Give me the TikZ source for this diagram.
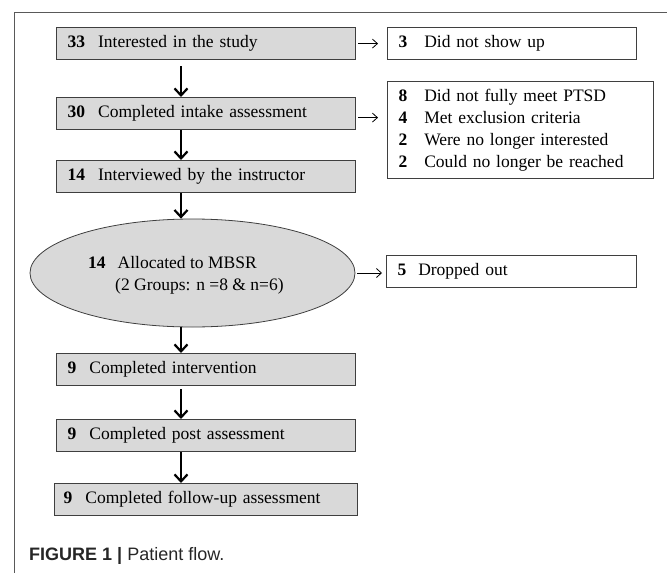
\documentclass[tikz,border=0pt]{standalone}
\usepackage{fontspec}
\setmainfont{Liberation Serif}
\newfontfamily\capfont{Liberation Sans}
\usepackage{tikz}
\usepackage{xcolor}
\usetikzlibrary{positioning,shapes.geometric,arrows.meta}

\definecolor{boxgray}{HTML}{D9D9D9}
\definecolor{edgegray}{HTML}{3F3F3F}
\definecolor{framegray}{HTML}{595959}
\newcommand{\cnt}[2][13pt]{\textbf{#2}\hspace{#1}}

\begin{document}
\begin{tikzpicture}[x=1pt, y=-1pt,
		every node/.style={font=\fontsize{17.5}{22}\selectfont, inner ysep=0pt},
		stagebox/.style={draw=edgegray, line width=1.2pt, fill=boxgray, anchor=north west,
			minimum height=32pt, inner xsep=11pt, text width=277pt, align=left},
		exitbox/.style={draw=edgegray, line width=1pt, fill=white, anchor=north west,
			minimum height=32pt, inner xsep=11pt, align=left},
		allocshape/.style={ellipse, draw=edgegray, line width=0.8pt, fill=boxgray,
			minimum width=325pt, minimum height=108pt, inner sep=0pt},
		down/.style={line width=2.2pt, -{Straight Barb[length=7pt,width=13pt]}},
		side/.style={line width=0.8pt, -{Straight Barb[length=5pt,width=9pt]}}]
		\useasboundingbox (0,0) rectangle (667,573);
		% frame
		\draw[framegray, line width=1pt] (14,573) -- (14,12) -- (667,12);
		% main column
		\node[stagebox] (s1) at (56,27) {\cnt{33}Interested in the study};
		\node[stagebox] (s2) at (56,97) {\cnt{30}Completed intake assessment};
		\node[stagebox] (s3) at (56,160) {\cnt{14}Interviewed by the instructor};
		\node[allocshape] (alloc) at (192.5,273) {};
		\node[anchor=west, align=left, inner sep=0pt] (allocnote) at (88,275)
			{\cnt[12pt]{14}Allocated to MBSR\\\hspace{27pt}(2 Groups: n =8 \& n=6)};
		\node[stagebox] (s4) at (56,353) {\cnt{9}Completed intervention};
		\node[stagebox] (s5) at (56,419) {\cnt{9}Completed post assessment};
		\node[stagebox, inner xsep=9pt, text width=285pt] (s6) at (54,483)
			{\cnt{9}Completed follow-up assessment};
		% exits
		\node[exitbox, text width=227pt] (x1) at (387,27) {\cnt[17pt]{3}Did not show up};
		\node[exitbox, text width=244pt, minimum height=97pt] (x2) at (387,81)
			{\cnt[17pt]{8}Did not fully meet PTSD\\
			 \cnt[17pt]{4}Met exclusion criteria\\
			 \cnt[17pt]{2}Were no longer interested\\
			 \cnt[17pt]{2}Could no longer be reached};
		\node[exitbox, text width=228pt] (x3) at (386,255) {\cnt[12pt]{5}Dropped out};
		% arrows
		\coordinate (spine) at (181,0);
		\coordinate[below=4pt of s2.east] (s2out);
		\draw[down, shorten <=6pt] (s1.south -| spine) -- (s2.north -| spine);
		\draw[down] (s2.south -| spine) -- (s3.north -| spine);
		\draw[down] (s3.south -| spine) -- (alloc.north -| spine);
		\draw[down] (alloc.south -| spine) -- (s4.north -| spine);
		\draw[down, shorten <=3pt] (s4.south -| spine) -- (s5.north -| spine);
		\draw[down] (s5.south -| spine) -- (s6.north -| spine);
		\draw[side, shorten <=2pt, shorten >=9pt] (s1.east) -- (s1.east -| x1.west);
		\draw[side, shorten <=2pt, shorten >=9pt] (s2out) -- (s2out -| x2.west);
		\draw[side, shorten <=2pt, shorten >=4pt] (alloc.east) -- (alloc.east -| x3.west);
		% caption
		\node[anchor=base west, inner sep=0pt, text=black!85,
			font=\capfont\fontsize{18}{22}\selectfont] (caption) at (29,560)
			{\textbf{FIGURE 1 |} Patient flow.};
	\end{tikzpicture}
\end{document}
